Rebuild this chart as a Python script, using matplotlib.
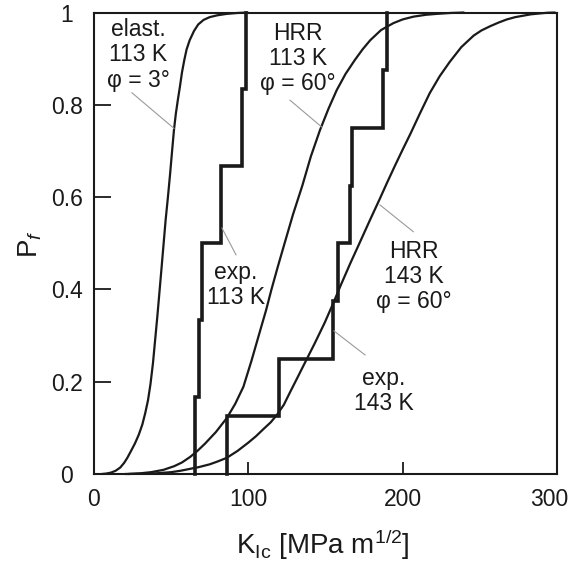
import matplotlib
matplotlib.use('Agg')
import matplotlib.pyplot as plt
from matplotlib.transforms import ScaledTranslation

plt.rcParams['font.family'] = ['Liberation Sans', 'DejaVu Sans']
plt.rcParams['mathtext.fontset'] = 'custom'
plt.rcParams['mathtext.rm'] = 'Liberation Sans'
plt.rcParams['mathtext.it'] = 'Liberation Sans:italic'

# failure probability curves, K_Ic in MPa m^1/2
k_elast_113 = [5, 8, 11, 14, 17, 19.5, 21.6, 24, 26.5, 29, 31.3, 33.2, 35, 36.6, 38.2, 39.6, 41, 42.3,
               43.6, 45, 46.4, 47.9, 49.3, 50.6, 51.8, 53, 54.3, 55.7, 57, 58.5, 60, 62, 64.8, 67.5,
               71, 75, 80, 86, 93, 100]
p_elast_113 = [0.0, 0.001, 0.003, 0.007, 0.014, 0.024, 0.035, 0.05, 0.066, 0.085, 0.107, 0.132, 0.16, 0.195,
               0.24, 0.29, 0.34, 0.39, 0.44, 0.495, 0.55, 0.60, 0.65, 0.70, 0.745, 0.78, 0.81, 0.84, 0.87,
               0.897, 0.92, 0.94, 0.96, 0.974, 0.984, 0.99, 0.994, 0.997, 0.999, 1.0]

k_hrr_113 = [22, 30, 37, 45, 52, 57, 62.3, 67, 72, 79, 86, 91.5, 96.8, 102, 107.6, 111.5, 115, 119,
             123.5, 129, 135, 140.5, 146.4, 152, 157.3, 163, 169, 174, 179, 186, 194, 200, 207, 215,
             222, 231, 240]
p_hrr_113 = [0.0, 0.0015, 0.004, 0.009, 0.017, 0.025, 0.037, 0.05, 0.066, 0.091, 0.121, 0.152, 0.189, 0.245,
             0.31, 0.355, 0.40, 0.448, 0.50, 0.563, 0.625, 0.688, 0.745, 0.792, 0.832, 0.867, 0.897, 0.92,
             0.94, 0.962, 0.977, 0.985, 0.991, 0.995, 0.997, 0.999, 1.0]

k_hrr_143 = [20, 30, 40, 50, 56, 62, 68, 75, 80, 86, 93, 100, 105, 110, 114.5, 118.5, 123, 127, 132,
             136.5, 143, 149.5, 155, 160, 166, 172, 178.5, 185, 190, 195, 200, 205, 211, 217.5, 224,
             230.5, 238, 246, 251, 256.5, 262, 267.5, 273, 278, 283, 289, 294, 299]
p_hrr_143 = [0.0, 0.0005, 0.0015, 0.004, 0.007, 0.011, 0.015, 0.021, 0.027, 0.035, 0.05, 0.068, 0.082,
             0.098, 0.112, 0.128, 0.15, 0.177, 0.21, 0.24, 0.283, 0.328, 0.37, 0.41, 0.456, 0.50, 0.548,
             0.595, 0.632, 0.668, 0.703, 0.737, 0.78, 0.825, 0.862, 0.893, 0.925, 0.95, 0.961, 0.97,
             0.978, 0.985, 0.99, 0.993, 0.996, 0.998, 0.9995, 1.0]

# measured toughness values (sorted), ranked probability i/n
k_exp_113 = [65.4, 68.2, 70.2, 82.1, 96.1, 98.3]
k_exp_143 = [86.2, 119.6, 154.8, 158.3, 166.0, 167.0, 187.5, 189.6]


def exp_steps(k):
    n = len(k)
    p = [(i + 1) / n for i in range(n)]
    return [k[0]] + list(k), [0.0] + p


fig = plt.figure(figsize=(5.72, 5.61), dpi=100)
ax = fig.add_axes([94 / 572, 1 - 474 / 561, 463 / 572, 461.5 / 561])

ink = '#1a1a1a'
for k, p in [(k_elast_113, p_elast_113), (k_hrr_113, p_hrr_113), (k_hrr_143, p_hrr_143)]:
    ax.plot(k, p, color=ink, lw=1.6, clip_on=False, solid_capstyle='butt', solid_joinstyle='round')

for k in [k_exp_113, k_exp_143]:
    xs, ys = exp_steps(k)
    ax.step(xs, ys, where='post', color=ink, lw=2.6, clip_on=False, solid_joinstyle='miter')

ax.set_xlim(0, 300)
ax.set_ylim(0, 1)
ax.set_xticks([0, 100, 200, 300])
ax.set_xticklabels(['0', '100', '200', '300'])
ax.set_yticks([0, 0.2, 0.4, 0.6, 0.8, 1])
ax.set_yticklabels(['0', '0.2', '0.4', '0.6', '0.8', '1'])
ax.tick_params(axis='x', direction='in', length=8.8, width=1.3, pad=10, labelsize=16.5, colors=ink)
ax.tick_params(axis='y', direction='in', length=12, width=1.3, pad=19.5, labelsize=16.5, colors=ink)
for lab in ax.get_yticklabels():
    lab.set_horizontalalignment('center')
# last x label sits a bit inside the right edge
last = ax.get_xticklabels()[-1]
last.set_transform(last.get_transform() + ScaledTranslation(-8 / 100, 0, fig.dpi_scale_trans))
for s in ax.spines.values():
    s.set_linewidth(1.5)
    s.set_color(ink)

# labels of the curves
txt = dict(fontsize=16.5, color=ink, ha='center', va='center', linespacing=1.12, multialignment='center')
ax.text(28.5, 0.908, 'elast.\n113 K\nφ = 3°', **txt)
ax.text(132.2, 0.901, 'HRR\n113 K\nφ = 60°', **txt)
ax.text(92, 0.41, 'exp.\n113 K', **txt)
ax.text(207.4, 0.428, 'HRR\n143 K\nφ = 60°', **txt)
ax.text(188, 0.18, 'exp.\n143 K', **txt)

leaders = [((24.6, 0.826), (51.8, 0.749)),
           ((127, 0.81), (147.5, 0.752)),
           ((92, 0.475), (82.9, 0.533)),
           ((206.9, 0.525), (185.3, 0.583)),
           ((175.6, 0.258), (155.5, 0.31))]
for a, b in leaders:
    ax.plot([a[0], b[0]], [a[1], b[1]], color='#9a9a9a', lw=0.8)

fig.text(323 / 572, 1 - 554 / 561, r'K$_{\rm Ic}$ [MPa m$^{1/2}$]', fontsize=20, color=ink,
         ha='center', va='baseline')
fig.text(37 / 572, 1 - 258 / 561, r'P$_{f}$', fontsize=20, color=ink, rotation=90,
         rotation_mode='anchor', ha='left', va='baseline')

fig.savefig('out.png', dpi=100)
